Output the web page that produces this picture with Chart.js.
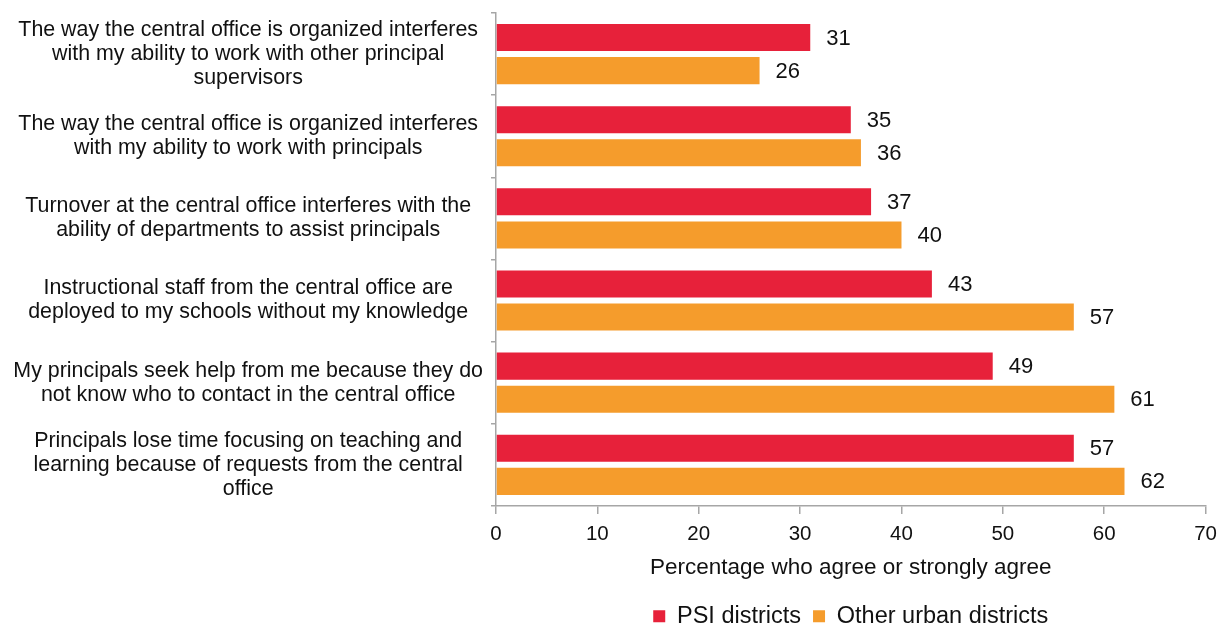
<!DOCTYPE html>
<html>
<head>
<meta charset="utf-8">
<script src="https://cdn.jsdelivr.net/npm/chart.js@4.4.1/dist/chart.umd.min.js"></script>
<style>
  html, body { margin: 0; padding: 0; background: #fff; }
  #wrap { width: 1225px; height: 626px; position: relative; }
</style>
</head>
<body>
<div id="wrap"><canvas id="chart"></canvas></div>
<script>
// ── Data ──────────────────────────────────────────────────────────
const categories = [
  ['The way the central office is organized interferes', 'with my ability to work with other principal', 'supervisors'],
  ['The way the central office is organized interferes', 'with my ability to work with principals'],
  ['Turnover at the central office interferes with the', 'ability of departments to assist principals'],
  ['Instructional staff from the central office are', 'deployed to my schools without my knowledge'],
  ['My principals seek help from me because they do', 'not know who to contact in the central office'],
  ['Principals lose time focusing on teaching and', 'learning because of requests from the central', 'office'],
];
const psiValues   = [31, 35, 37, 43, 49, 57];
const otherValues = [26, 36, 40, 57, 61, 62];
const seriesNames = ['PSI districts', 'Other urban districts'];
const xTitle      = 'Percentage who agree or strongly agree';

const RED    = '#E7213A';
const ORANGE = '#F59C2C';
const INK    = '#111111';
const AXIS   = '#a6a6a6';
const FONT   = "'Liberation Sans', Arial, sans-serif";

// value labels at the bar ends
const valueLabels = {
  id: 'valueLabels',
  afterDatasetsDraw(chart) {
    const ctx = chart.ctx;
    ctx.save();
    ctx.font = `22px ${FONT}`;
    ctx.fillStyle = INK;
    ctx.textAlign = 'left';
    ctx.textBaseline = 'middle';
    chart.data.datasets.forEach((ds, di) => {
      chart.getDatasetMeta(di).data.forEach((bar, i) => {
        ctx.fillText(String(ds.data[i]), bar.x + 16, bar.y + 1);
      });
    });
    ctx.restore();
  }
};

new Chart(document.getElementById('chart'), {
  type: 'bar',
  data: {
    labels: categories,
    datasets: [
      { label: seriesNames[0], data: psiValues,   backgroundColor: RED,
        categoryPercentage: 0.805, barPercentage: 0.818 },
      { label: seriesNames[1], data: otherValues, backgroundColor: ORANGE,
        categoryPercentage: 0.805, barPercentage: 0.818 },
    ]
  },
  options: {
    indexAxis: 'y',
    responsive: true,
    maintainAspectRatio: false,
    animation: false,
    layout: { padding: { top: 13, right: 15, bottom: -12, left: 0 } },
    plugins: {
      legend: {
        position: 'bottom',
        fullSize: false,
        labels: {
          color: INK,
          font: { family: FONT, size: 23.5 },
          boxWidth: 12, boxHeight: 12,
          padding: 12,
        }
      },
      tooltip: { enabled: false }
    },
    scales: {
      x: {
        min: 0, max: 70,
        ticks: { stepSize: 10, color: INK, font: { family: FONT, size: 20.5 }, padding: 8 },
        grid: { drawOnChartArea: false, color: AXIS, tickLength: 8, lineWidth: 1.5 },
        border: { color: AXIS, width: 1.5 },
        title: { display: true, text: xTitle, color: INK,
                 font: { family: FONT, size: 22.5 }, padding: { top: 0, bottom: 11 } }
      },
      y: {
        afterFit: s => { s.width = 496; s.paddingTop = 0; s.paddingBottom = 0; },
        ticks: { color: INK, font: { family: FONT, size: 21.4, lineHeight: 1.12 },
                 crossAlign: 'center', padding: 8 },
        grid: { drawOnChartArea: false, offset: true, color: AXIS, tickLength: 5, lineWidth: 1.5 },
        border: { color: AXIS, width: 1.5 }
      }
    }
  },
  plugins: [valueLabels]
});
</script>
</body>
</html>
